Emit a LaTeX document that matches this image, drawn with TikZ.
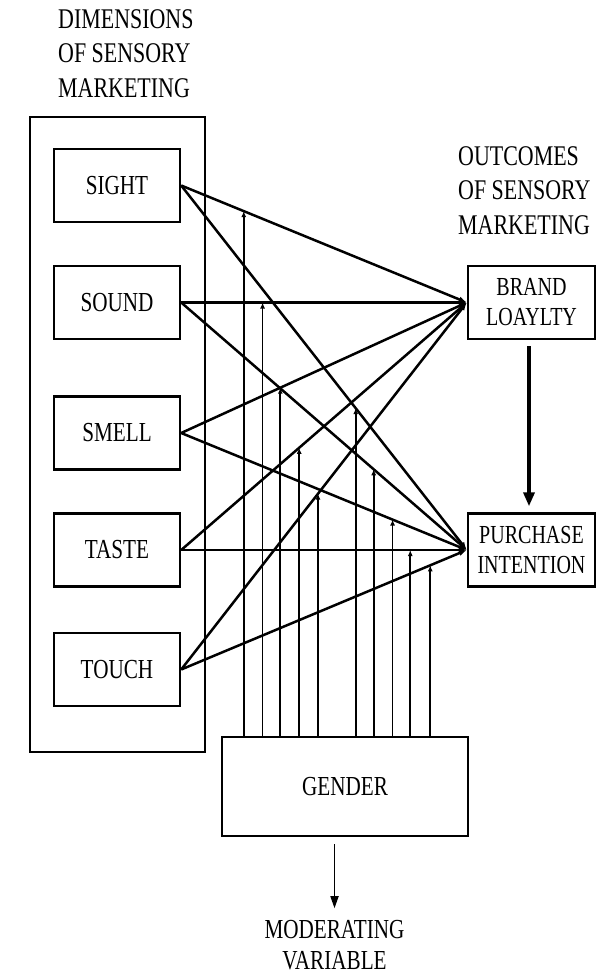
\documentclass[tikz,border=0pt]{standalone}
\usepackage{fontspec}
\setmainfont{Liberation Serif}[FakeStretch=0.77]
\usetikzlibrary{arrows.meta}
\newcommand\lbltext{\fontsize{27.5}{30.5}\selectfont}
\newcommand\outtext{\fontsize{26}{30}\selectfont}
\newcommand\headtext{\fontsize{28.5}{34.5}\selectfont}
\begin{document}
\begin{tikzpicture}[x=1pt,y=-1pt,
  box/.style={draw, line width=2.4pt, inner sep=0pt, align=center, font=\lbltext},
  sense/.style={box, minimum width=126pt, minimum height=73pt},
  outcome/.style={box, minimum width=127pt, minimum height=73pt, font=\outtext},
  heading/.style={inner sep=0pt, align=left, font=\headtext},
  conn/.style={line width=2.5pt, -{Latex[length=8pt,width=6pt]}},
  modarrow/.style={line width=1.7pt, -{Latex[length=6pt,width=5pt]}},
  mainarrow/.style={line width=3.4pt, -{Triangle[length=14pt,width=11pt]}},
  thinarrow/.style={line width=1.7pt, -{Triangle[length=12pt,width=8pt]}}]
\useasboundingbox (0,0) rectangle (602,976);

% headings
\node[heading, anchor=north west] (dimhead) at (58,9) {DIMENSIONS\\OF SENSORY\\MARKETING};
\node[heading, anchor=north west] (outhead) at (458,146) {OUTCOMES\\OF SENSORY\\MARKETING};

% frame around the sensory dimensions
\node[draw, line width=2.4pt, minimum width=175pt, minimum height=635pt, inner sep=0pt] (frame) at (117.5,434.5) {};

% the five senses
\node[sense] (sight) at (117,185.5) {SIGHT};
\node[sense] (sound) at (117,302.5) {SOUND};
\node[sense] (smell) at (117,433) {SMELL};
\node[sense] (taste) at (117,550) {TASTE};
\node[sense] (touch) at (117,669.5) {TOUCH};

% outcomes
\node[outcome] (brand) at (531.5,302.5) {BRAND\\LOAYLTY};
\node[outcome] (purch) at (531.5,550) {PURCHASE\\INTENTION};

% moderating variable
\node[box, minimum width=246pt, minimum height=99pt] (gender) at (345,786.5) {GENDER};
\node[inner sep=0pt, align=center, font=\lbltext] (modtext) at (334.5,945) {MODERATING\\VARIABLE};

% senses -> brand loyalty
\draw[conn] (sight.east) -- (brand.west) coordinate[pos=0.219] (m1);
\draw[conn] (sound.east) -- (brand.west) coordinate[pos=0.285] (m2);
\draw[conn] (smell.east) -- (brand.west) coordinate[pos=0.347] (m3);
\draw[conn] (taste.east) -- (brand.west) coordinate[pos=0.413] (m4);
\draw[conn] (touch.east) -- (brand.west) coordinate[pos=0.479] (m5);

% senses -> purchase intention
\draw[conn] (sight.east) -- (purch.west) coordinate[pos=0.611] (m6);
\draw[conn] (sound.east) -- (purch.west) coordinate[pos=0.674] (m7);
\draw[conn] (smell.east) -- (purch.west) coordinate[pos=0.740] (m8);
\draw[conn] (taste.east) -- (purch.west) coordinate[pos=0.802] (m9);
\draw[conn] (touch.east) -- (purch.west) coordinate[pos=0.872] (m10);

% gender moderates each relationship
\foreach \m in {m1,m2,m3,m4,m5,m6,m7,m8,m9,m10}
  \draw[modarrow] (\m |- gender.north) -- (\m);

% brand loyalty -> purchase intention
\draw[mainarrow, shorten <=6pt, shorten >=6pt] ([xshift=-2.5pt]brand.south) -- ([xshift=-2.5pt]purch.north);

% gender -> label
\draw[thinarrow, shorten <=7pt, shorten >=12pt] (modtext.north |- gender.south) -- (modtext.north);
\end{tikzpicture}
\end{document}
